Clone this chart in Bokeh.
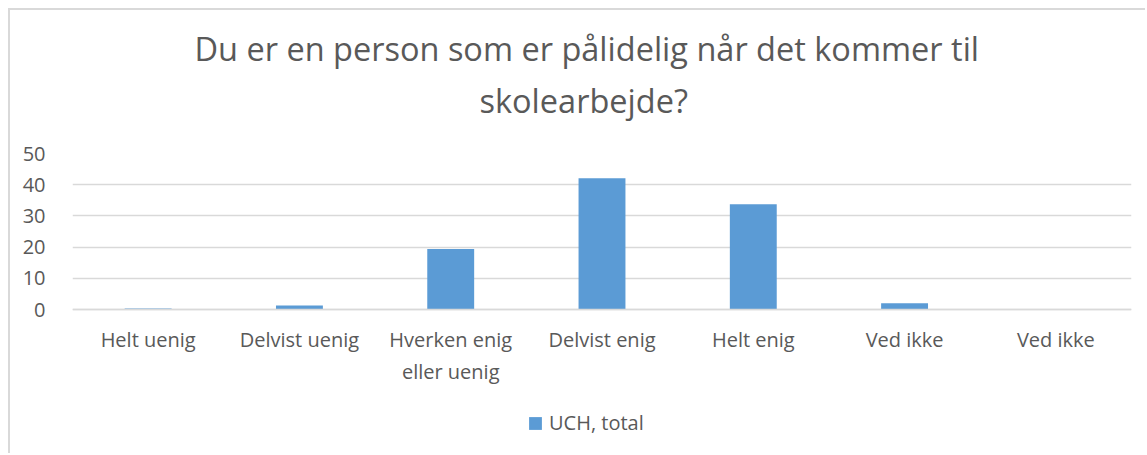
from bokeh.plotting import figure
from bokeh.models import (ColumnDataSource, FixedTicker, Range1d, Title, Legend, LegendItem)
from bokeh.embed import file_html
from bokeh.resources import INLINE

categories = ["Helt uenig", "Delvist uenig", "Hverken enig\neller uenig", "Delvist enig",
              "Helt enig", "Ved ikke", "Ved ikke"]
values = [0.3, 1.3, 19.4, 42.1, 33.7, 2.0, 0.0]
series_name = "UCH, total"
y_ticks = [0, 10, 20, 30, 40, 50]
title_lines = ["Du er en person som er pålidelig når det kommer til", "skolearbejde?"]

FONT = "Open Sans"
TXT = "#595959"
GRID = "#D9D9D9"
BAR = "#5B9BD5"

# layout geometry (pixels)
W, H = 1137, 445
TOP, LEFT, RIGHT = 143, 62, 16
VAL_PX = 156            # pixel height of the 0..50 value band
BELOW_PX = H - TOP - VAL_PX   # room under the zero line for labels and legend
y_max = y_ticks[-1]
y_min = -y_max * BELOW_PX / VAL_PX

xs = list(range(len(categories)))
src = ColumnDataSource(dict(x=xs, top=values))

p = figure(width=W, height=H, output_backend="svg", toolbar_location=None,
           x_range=Range1d(-0.5, len(categories) - 0.5), y_range=Range1d(y_min, y_max),
           min_border_left=LEFT, min_border_right=RIGHT, min_border_top=TOP, min_border_bottom=0)
p.styles = {"margin-left": "8px", "margin-top": "8px",
            "border-left": "2px solid #D9D9D9", "border-top": "2px solid #D9D9D9"}
p.outline_line_color = None
p.background_fill_color = "white"
p.border_fill_color = "white"

r = p.vbar(x="x", top="top", bottom=0, width=0.31, source=src, fill_color=BAR, line_color=None)

# x axis sits on the zero line
p.xaxis.fixed_location = 0
p.xaxis.ticker = FixedTicker(ticks=xs)
p.xaxis.major_label_overrides = {i: c for i, c in zip(xs, categories)}
p.xaxis.major_tick_line_color = None
p.xaxis.minor_tick_line_color = None
p.xaxis.axis_line_color = GRID
p.xaxis.axis_line_width = 1.5
p.xaxis.major_label_text_font = FONT
p.xaxis.major_label_text_font_size = "20px"
p.xaxis.major_label_text_color = TXT
p.xaxis.major_label_standoff = 10

p.yaxis.ticker = FixedTicker(ticks=y_ticks)
p.yaxis.major_tick_line_color = None
p.yaxis.minor_tick_line_color = None
p.yaxis.axis_line_color = None
p.yaxis.major_label_text_font = FONT
p.yaxis.major_label_text_font_size = "20px"
p.yaxis.major_label_text_color = TXT
p.yaxis.major_label_standoff = 21

p.xgrid.grid_line_color = None
p.ygrid.ticker = FixedTicker(ticks=y_ticks)
p.ygrid.grid_line_color = GRID
p.ygrid.grid_line_width = 1.5

# title (two lines, stacked outward from frame)
t0 = Title(text=" ", text_font=FONT, text_font_size="12px", standoff=7)
t2 = Title(text=title_lines[1], align="left", offset=407, text_font=FONT, text_font_size="32.5px",
           text_color=TXT, text_font_style="normal", standoff=10)
t1 = Title(text=title_lines[0], align="left", offset=122, text_font=FONT, text_font_size="32.5px",
           text_color=TXT, text_font_style="normal", standoff=0)
p.add_layout(t0, "above")
p.add_layout(t2, "above")
p.add_layout(t1, "above")

legend = Legend(items=[LegendItem(label=series_name, renderers=[r])],
                location=(455, 19), orientation="horizontal",
                label_text_font=FONT, label_text_font_size="20px", label_text_color=TXT,
                glyph_width=16, glyph_height=16, label_standoff=6,
                padding=0, margin=0,
                border_line_color=None, background_fill_alpha=0)
p.add_layout(legend, "center")

open("out.html", "w").write(file_html(p, INLINE))
